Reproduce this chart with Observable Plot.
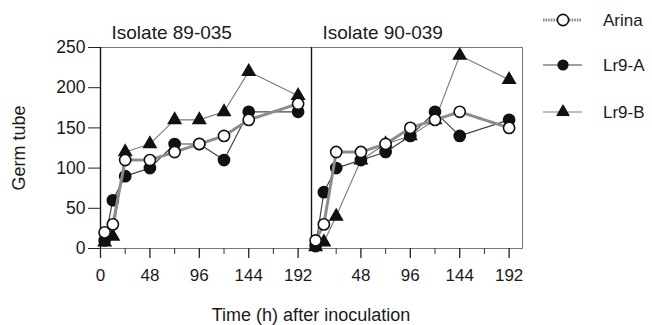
<!DOCTYPE html>
<html><head><meta charset="utf-8">
<script src="https://cdn.jsdelivr.net/npm/d3@7"></script>
<script src="https://cdn.jsdelivr.net/npm/@observablehq/plot@0.6"></script>
<style>body{margin:0;background:#fff} #c{width:652px;height:325px}</style>
</head><body><div id="c"></div>
<script>
const isolates = ["89-035", "90-039"];
const titles = ["Isolate 89-035", "Isolate 90-039"];
const series = ["Arina", "Lr9-A", "Lr9-B"];
const times = [4, 12, 24, 48, 72, 96, 120, 144, 192];
const arina89 = [20, 30, 110, 110, 120, 130, 140, 160, 180];
const lr9a89  = [10, 60, 90, 100, 130, 130, 110, 170, 170];
const lr9b89  = [8, 15, 120, 130, 160, 160, 170, 220, 190];
const arina90 = [10, 30, 120, 120, 130, 150, 160, 170, 150];
const lr9a90  = [3, 70, 100, 110, 120, 140, 170, 140, 160];
const lr9b90  = [2, 8, 40, 110, 130, 140, 160, 240, 210];
const yTicks = [0, 50, 100, 150, 200, 250];
const majorTicks = [0, 48, 96, 144, 192];
const minorTicks = [24, 72, 120, 168];
const xLabel = "Time (h) after inoculation";
const yLabel = "Germ tube";

const valuesBy = {
  "89-035": {"Arina": arina89, "Lr9-A": lr9a89, "Lr9-B": lr9b89},
  "90-039": {"Arina": arina90, "Lr9-A": lr9a90, "Lr9-B": lr9b90}
};
const rows = [];
for (const iso of isolates) for (const s of series)
  times.forEach((t, i) => rows.push({isolate: iso, series: s, t, v: valuesBy[iso][s][i]}));
const bySeries = s => rows.filter(d => d.series === s);

const majorRows = [], minorRows = [];
isolates.forEach((iso, k) => {
  majorTicks.forEach(t => { if (!(k > 0 && t === 0)) majorRows.push({isolate: iso, t}); });
  minorTicks.forEach(t => minorRows.push({isolate: iso, t}));
});
const titleRows = isolates.map((iso, k) => ({isolate: iso, title: titles[k]}));

const FONT = "'Liberation Sans', Arial, sans-serif";
const ink = "#1a1a1a";
const TRI_R = 4.6;

const chart = Plot.plot({
  width: 652, height: 325,
  marginLeft: 100, marginRight: 130, marginTop: 47, marginBottom: 77,
  style: {fontFamily: FONT, color: ink, background: "#fff"},
  fx: {domain: isolates, padding: 0, axis: null},
  x: {domain: [0, 205], axis: null},
  y: {domain: [0, 250], axis: null},
  marks: [
    Plot.frame({stroke: "#777", strokeWidth: 1}),
    Plot.ruleX([0], {stroke: "#111", strokeWidth: 1.4}),
    Plot.axisY(yTicks, {anchor: "left", tickSize: 12, tickPadding: 3, fontSize: 17.5, stroke: "#222", label: null}),
    Plot.ruleX(majorRows, {x: "t", fx: "isolate", y1: 0, y2: 0, insetBottom: -10, stroke: "#222", strokeWidth: 1.3}),
    Plot.ruleX(minorRows, {x: "t", fx: "isolate", y1: 0, y2: 0, insetBottom: -6, stroke: "#444", strokeWidth: 1.1}),
    Plot.text(majorRows, {x: "t", fx: "isolate", y: 0, text: d => String(d.t), dy: 27, fontSize: 17, fill: ink}),
    Plot.text(titleRows, {fx: "isolate", text: "title", frameAnchor: "top-left", dx: 11, dy: -22, textAnchor: "start", fontSize: 19, fill: ink}),
    // Lr9-B
    Plot.line(bySeries("Lr9-B"), {x: "t", y: "v", fx: "isolate", stroke: "#7a7a7a", strokeWidth: 1.1}),
    Plot.dot(bySeries("Lr9-B"), {x: "t", y: "v", fx: "isolate", symbol: "triangle", r: TRI_R, fill: "#111", stroke: "#111"}),
    // Lr9-A
    Plot.line(bySeries("Lr9-A"), {x: "t", y: "v", fx: "isolate", stroke: "#444", strokeWidth: 1.2}),
    Plot.dot(bySeries("Lr9-A"), {x: "t", y: "v", fx: "isolate", r: 5.6, fill: "#111", stroke: "#111"}),
    // Arina
    Plot.line(bySeries("Arina"), {x: "t", y: "v", fx: "isolate", stroke: "#8c8c8c", strokeWidth: 3, strokeDasharray: "1.6 1"}),
    Plot.dot(bySeries("Arina"), {x: "t", y: "v", fx: "isolate", r: 5.6, fill: "#fff", stroke: "#111", strokeWidth: 1.6})
  ]
});
document.getElementById("c").appendChild(chart);

// axis titles and legend as real SVG text
const svg = d3.select(chart);
svg.append("text").attr("x", 311).attr("y", 321).attr("text-anchor", "middle")
  .attr("font-family", FONT).attr("font-size", 18).attr("fill", ink).text(xLabel);
svg.append("text").attr("transform", "translate(25,148) rotate(-90)").attr("text-anchor", "middle")
  .attr("font-family", FONT).attr("font-size", 18).attr("fill", ink).text(yLabel);

const legendY = [20, 65, 112];
const lg = svg.append("g");
series.forEach((s, i) => {
  const y = legendY[i];
  const line = lg.append("line").attr("x1", 543).attr("x2", 582).attr("y1", y).attr("y2", y);
  if (s === "Arina") line.attr("stroke", "#8c8c8c").attr("stroke-width", 3).attr("stroke-dasharray", "1.6 1");
  else if (s === "Lr9-A") line.attr("stroke", "#444").attr("stroke-width", 1.2);
  else line.attr("stroke", "#7a7a7a").attr("stroke-width", 1.1);
  if (s === "Arina") lg.append("circle").attr("cx", 563).attr("cy", y).attr("r", 5.6).attr("fill", "#fff").attr("stroke", "#111").attr("stroke-width", 1.6);
  else if (s === "Lr9-A") lg.append("circle").attr("cx", 563).attr("cy", y).attr("r", 5.6).attr("fill", "#111");
  else lg.append("path").attr("transform", `translate(563,${y})`).attr("d", d3.symbol(d3.symbolTriangle, TRI_R * TRI_R * Math.PI)()).attr("fill", "#111").attr("stroke", "#111");
  lg.append("text").attr("x", 603).attr("y", y).attr("dy", "0.35em").attr("text-anchor", "start").attr("font-family", FONT)
    .attr("font-size", 17).attr("fill", ink).text(s);
});
</script>
</body></html>
